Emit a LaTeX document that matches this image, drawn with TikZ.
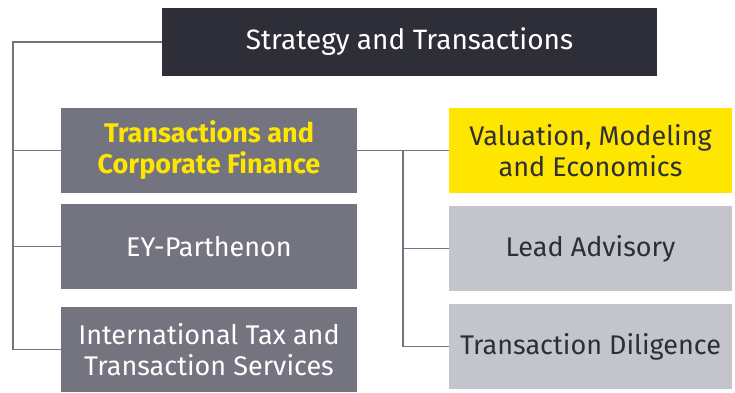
\documentclass[tikz,border=0pt]{standalone}
\usepackage{fontspec}
\setmainfont{Fira Sans}
\usepackage{xcolor}
\usetikzlibrary{calc}
\definecolor{eydark}{HTML}{2E2E38}
\definecolor{eygray}{HTML}{747480}
\definecolor{eylight}{HTML}{C4C4CD}
\definecolor{eyyellow}{HTML}{FFE600}
\tikzset{
  unit/.style={inner sep=0pt, align=center, font=\fontsize{27}{31}\selectfont},
  head/.style={unit, fill=eydark, text=white, minimum width=495pt, minimum height=68pt},
  leftbox/.style={unit, fill=eygray, text=white, minimum width=296pt, minimum height=85pt},
  rightbox/.style={unit, fill=eylight, text=eydark, minimum width=283pt, minimum height=85pt},
  conn/.style={draw=eygray, line width=1.2pt},
}
\begin{document}
\begin{tikzpicture}[x=1pt, y=-1pt]
  \useasboundingbox (0,0) rectangle (735,392);
  % boxes
  \node[head, font=\fontsize{28}{31}\selectfont] (st) at (409.5,42) {Strategy and Transactions};
  \node[leftbox, text=eyyellow, font=\fontsize{27}{31}\selectfont\bfseries] (tcf) at (209,150.5) {Transactions and\\Corporate Finance};
  \node[leftbox] (eyp) at (209,246.5) {EY-Parthenon};
  \node[leftbox] (itts) at (209,349.5) {International Tax and\\Transaction Services};
  \node[rightbox, fill=eyyellow] (vme) at (590.5,150.5) {Valuation, Modeling\\and Economics};
  \node[rightbox] (la) at (590.5,248.5) {Lead Advisory};
  \node[rightbox] (td) at (590.5,346.5) {Transaction Diligence};
  % left spine
  \coordinate (lspine) at (13,42);
  \draw[conn] (st.west) -- (lspine) |- (itts.west);
  \draw[conn] (lspine |- tcf.west) -- (tcf.west);
  \draw[conn] (lspine |- eyp.west) -- (eyp.west);
  % right spine
  \coordinate (rspine) at (403,150.5);
  \draw[conn] (tcf.east) -- (rspine) |- (td.west);
  \draw[conn] (rspine) -- (vme.west);
  \draw[conn] (rspine |- la.west) -- (la.west);
\end{tikzpicture}
\end{document}
